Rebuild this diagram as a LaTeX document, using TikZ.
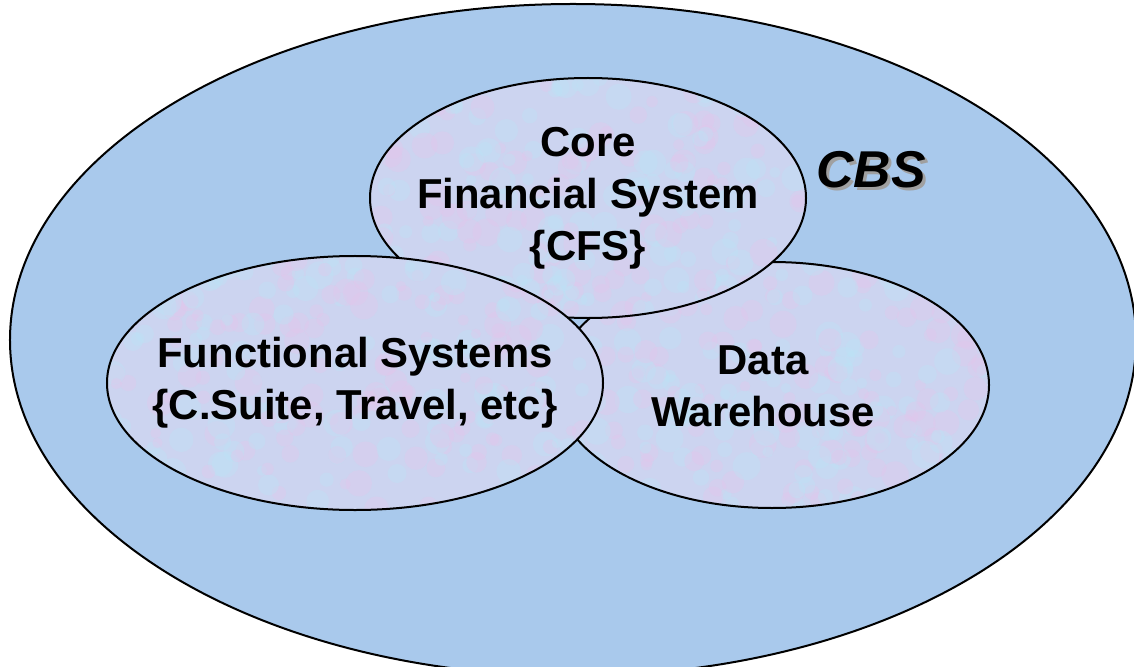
\documentclass[tikz,border=0pt]{standalone}
\usepackage{fontspec}
\setmainfont{Liberation Sans}
\usetikzlibrary{shapes.geometric}
\definecolor{cbsblue}{RGB}{169,201,236}
\definecolor{inner}{RGB}{204,212,240}
\definecolor{tpink}{RGB}{228,198,236}
\definecolor{tcyan}{RGB}{188,228,246}
\definecolor{shadowgray}{RGB}{160,160,160}
\tikzset{
  setellipse/.style={ellipse, fill=inner, inner sep=0pt},
  outline/.style={draw=black, line width=2bp},
  lbl/.style={font=\bfseries\fontsize{42}{52}\selectfont, align=center, text=black},
}
\newcommand\texturefill[4]{%
  \begin{scope}
  \clip (#1,#2) ellipse [x radius=#3bp, y radius=#4bp];
  \foreach \k in {1,...,260}{
    \pgfmathsetmacro\tx{#1+rand*#3}
    \pgfmathsetmacro\ty{#2+rand*#4}
    \pgfmathsetmacro\tr{5+9*rnd}
    \pgfmathsetmacro\tc{rnd}
    \ifdim\tc pt<0.5pt \def\tcol{tpink}\else\def\tcol{tcyan}\fi
    \fill[\tcol, opacity=0.35] (\tx,\ty) circle [radius=\tr bp];
  }
  \end{scope}
  \draw[outline] (#1,#2) ellipse [x radius=#3bp, y radius=#4bp];}
\begin{document}
\begin{tikzpicture}[x=1bp,y=-1bp]
\pgfmathsetseed{7}
\useasboundingbox (0,0) rectangle (1134,667);
\fill[white] (0,0) rectangle (1134,667);
\begin{scope}
\clip (0,0) rectangle (1134,667);
\draw[outline, fill=cbsblue] (573,340) ellipse [x radius=563bp, y radius=336bp];
\end{scope}
\node[setellipse, minimum width=434bp, minimum height=246bp] (dw) at (772,385) {};
\texturefill{772}{385}{217}{123}
\node[setellipse, minimum width=436bp, minimum height=240bp] (core) at (588,198) {};
\texturefill{588}{198}{218}{120}
\node[setellipse, minimum width=496bp, minimum height=254bp] (func) at (355,383) {};
\texturefill{355}{383}{248}{127}
\node[lbl] (coretext) at (core.center) {Core\\Financial System\\\{CFS\}};
\node[lbl] (functext) at (func.center) {Functional Systems\\\{C.Suite, Travel, etc\}};
\node[lbl] (dwtext) at (763,386) {Data\\Warehouse};
\node[font=\bfseries\itshape\fontsize{52}{60}\selectfont, text=black] (cbs) at (871,171) {\makebox[0pt][l]{\hspace{3bp}\raisebox{-3bp}{\color{shadowgray}CBS}}CBS};
\end{tikzpicture}
\end{document}
